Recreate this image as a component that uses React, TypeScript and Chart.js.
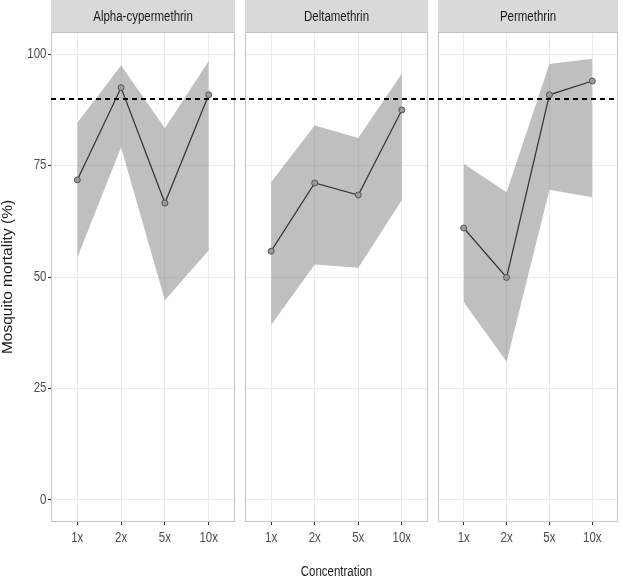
import React, { useEffect, useRef } from 'react';
import { Chart, registerables } from 'chart.js';
Chart.register(...registerables);

const concentrations = ['1x', '2x', '5x', '10x'];
const yTicks = [0, 25, 50, 75, 100];
const threshold = 90;

const alphaMean = [71.8, 92.5, 66.6, 90.9];
const alphaLower = [54.3, 79.1, 44.8, 56.0];
const alphaUpper = [84.6, 97.5, 83.4, 98.5];

const deltaMean = [55.8, 71.1, 68.4, 87.5];
const deltaLower = [39.2, 52.8, 52.1, 67.3];
const deltaUpper = [71.3, 84.0, 81.2, 95.7];

const permMean = [61.0, 49.9, 90.9, 94.0];
const permLower = [44.4, 31.0, 69.6, 67.9];
const permUpper = [75.4, 69.0, 97.8, 99.0];

const REGULAR = "'Liberation Sans', Arial, sans-serif";
const SQUEEZE = 0.82;

type PanelProps = {
  title: string;
  mean: number[];
  lower: number[];
  upper: number[];
  left: number;
  width: number;
  padLeft: number;
  padRight: number;
  showY: boolean;
  showXTitle: boolean;
  lineFromArea: boolean;
  lineToArea: boolean;
};

const H = 579;

function narrowText(ctx: CanvasRenderingContext2D, text: string, x: number, y: number, align: CanvasTextAlign, size: number, color: string) {
  ctx.save();
  ctx.translate(x, y);
  ctx.scale(SQUEEZE, 1);
  ctx.font = `${size}px ${REGULAR}`;
  ctx.fillStyle = color;
  ctx.textAlign = align;
  ctx.textBaseline = 'middle';
  ctx.fillText(text, 0, 0);
  ctx.restore();
}

function Panel(p: PanelProps) {
  const ref = useRef<HTMLCanvasElement | null>(null);
  useEffect(() => {
    if (!ref.current) return;
    const toPts = (arr: number[]) => arr.map((v, i) => ({ x: i, y: v }));
    const panelPlugin = {
      id: 'panelDeco',
      beforeDraw(chart: any) {
        const { ctx, chartArea: a } = chart;
        ctx.save();
        ctx.fillStyle = '#ffffff';
        ctx.fillRect(0, 0, chart.width, chart.height);
        ctx.fillStyle = '#d9d9d9';
        ctx.fillRect(a.left, 0, a.right - a.left, 32);
        ctx.restore();
        narrowText(ctx, p.title, (a.left + a.right) / 2, 17, 'center', 14, '#1a1a1a');
      },
      afterDatasetsDraw(chart: any) {
        const { ctx, chartArea: a } = chart;
        const y = Math.round(chart.scales.y.getPixelForValue(threshold));
        const x0 = p.lineFromArea ? a.left : 0;
        const x1 = p.lineToArea ? a.right : chart.width;
        ctx.save();
        ctx.strokeStyle = '#c4c4c4';
        ctx.lineWidth = 1;
        ctx.strokeRect(a.left + 0.5, a.top + 0.5, a.right - a.left - 1, a.bottom - a.top - 1);
        ctx.strokeStyle = '#000000';
        ctx.lineWidth = 1.8;
        ctx.setLineDash([5, 4]);
        ctx.lineDashOffset = p.left + x0 - 51;
        ctx.beginPath();
        ctx.moveTo(x0, y);
        ctx.lineTo(x1, y);
        ctx.stroke();
        ctx.restore();
      },
      afterDraw(chart: any) {
        const { ctx, chartArea: a } = chart;
        const xs = chart.scales.x;
        const ys = chart.scales.y;
        concentrations.forEach((lab, i) => {
          narrowText(ctx, lab, xs.getPixelForValue(i), a.bottom + 16, 'center', 14, '#4d4d4d');
        });
        if (p.showY) {
          yTicks.forEach((v) => {
            narrowText(ctx, String(v), a.left - 4.5, ys.getPixelForValue(v), 'right', 14, '#4d4d4d');
          });
        }
        if (p.showXTitle) {
          narrowText(ctx, 'Concentration', (a.left + a.right) / 2, 572, 'center', 14, '#1a1a1a');
        }
      },
    };
    const chart = new Chart(ref.current, {
      type: 'line',
      data: {
        datasets: [
          {
            data: toPts(p.mean),
            borderColor: '#333333',
            borderWidth: 1.2,
            pointRadius: 3,
            pointBackgroundColor: '#9a9a9a',
            pointBorderColor: '#555555',
            pointBorderWidth: 1,
            fill: false,
            tension: 0,
          },
          {
            data: toPts(p.upper),
            borderWidth: 0,
            borderColor: 'rgba(0,0,0,0)',
            pointRadius: 0,
            backgroundColor: 'rgba(128,128,128,0.5)',
            fill: '+1',
            tension: 0,
          },
          {
            data: toPts(p.lower),
            borderWidth: 0,
            borderColor: 'rgba(0,0,0,0)',
            pointRadius: 0,
            fill: false,
            tension: 0,
          },
        ],
      },
      options: {
        animation: false,
        responsive: false,
        devicePixelRatio: 1,
        layout: { padding: { left: p.padLeft, right: p.padRight, top: 32, bottom: 0 } },
        plugins: { legend: { display: false }, tooltip: { enabled: false }, title: { display: false } },
        scales: {
          x: {
            type: 'linear',
            min: -0.6,
            max: 3.6,
            afterBuildTicks: (s: any) => {
              s.ticks = concentrations.map((_, i) => ({ value: i }));
            },
            afterFit: (s: any) => {
              s.height = 57;
            },
            ticks: { display: false },
            grid: { color: '#ebebeb', tickColor: '#333333', tickLength: 3, lineWidth: 1 },
            border: { display: false },
            title: { display: false },
          },
          y: {
            type: 'linear',
            min: -5,
            max: 105,
            afterBuildTicks: (s: any) => {
              s.ticks = yTicks.map((v) => ({ value: v }));
            },
            afterFit: (s: any) => {
              s.width = p.showY ? 51 : 0;
            },
            ticks: { display: false },
            grid: { color: '#ebebeb', tickColor: '#333333', tickLength: 3, drawTicks: p.showY, lineWidth: 1 },
            border: { display: false },
            title: {
              display: p.showY,
              text: 'Mosquito mortality (%)',
              font: { family: REGULAR, size: 15.5, lineHeight: 1 },
              color: '#1a1a1a',
              padding: 0,
            },
          },
        },
      },
      plugins: [panelPlugin],
    } as any);
    return () => chart.destroy();
  }, []);
  return (
    <canvas
      ref={ref}
      width={p.width}
      height={H}
      style={{ position: 'absolute', left: p.left, top: 0, width: p.width, height: H }}
    />
  );
}

export default function App() {
  return (
    <div style={{ position: 'fixed', left: 0, top: 0, width: 623, height: H, background: '#fff' }}>
      <Panel title="Alpha-cypermethrin" mean={alphaMean} lower={alphaLower} upper={alphaUpper}
        left={0} width={240} padLeft={0} padRight={4} showY={true} showXTitle={false}
        lineFromArea={true} lineToArea={false} />
      <Panel title="Deltamethrin" mean={deltaMean} lower={deltaLower} upper={deltaUpper}
        left={240} width={193} padLeft={4} padRight={4} showY={false} showXTitle={true}
        lineFromArea={false} lineToArea={false} />
      <Panel title="Permethrin" mean={permMean} lower={permLower} upper={permUpper}
        left={433} width={190} padLeft={4} padRight={1} showY={false} showXTitle={false}
        lineFromArea={false} lineToArea={true} />
    </div>
  );
}
